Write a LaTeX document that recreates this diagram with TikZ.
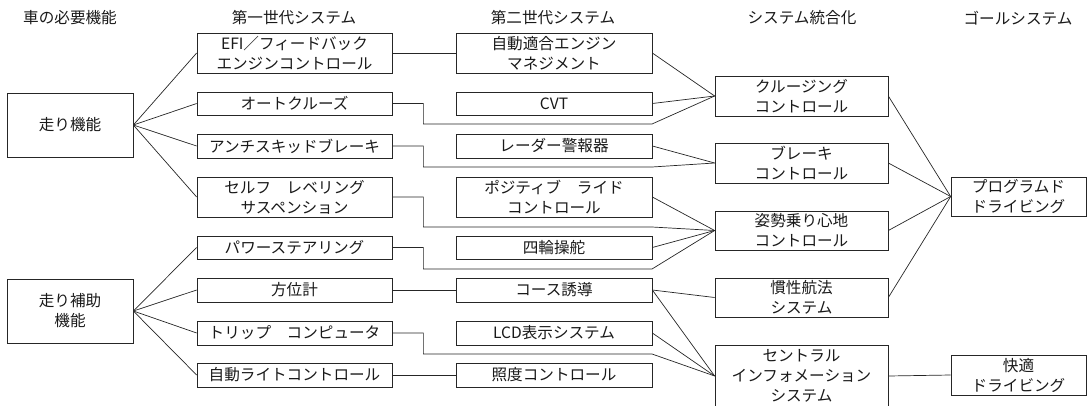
\documentclass[tikz,border=0pt]{standalone}
\usepackage{fontspec}
\setmainfont{Noto Sans CJK JP}
\begin{document}
\begin{tikzpicture}[x=1pt,y=-1pt,
  box/.style={draw=black!85, line width=0.7pt, rectangle, inner sep=0pt, align=center,
    font=\fontsize{15.6}{20}\selectfont, text=black!90},
  hdr/.style={font=\fontsize{15.6}{20}\selectfont, text=black!90, inner sep=0pt},
  conn/.style={draw=black!85, line width=0.7pt}]
\useasboundingbox (0,0) rectangle (1088,405);
% headers
\node[hdr] (h1) at (70,18) {車の必要機能};
\node[hdr] (h2) at (294,18) {第一世代システム};
\node[hdr] (h3) at (553,18) {第二世代システム};
\node[hdr] (h4) at (802,18) {システム統合化};
\node[hdr] (h5) at (1018,18) {ゴールシステム};
% column 1
\node[box, minimum width=126pt, minimum height=64pt] (run) at (70,125) {走り機能};
\node[box, minimum width=126pt, minimum height=64pt] (aux) at (70,311) {走り補助\\機能};
% column 2
\tikzset{c2/.style={box, minimum width=195pt}}
\node[c2, minimum height=40pt] (efi) at (294.5,53) {EFI／フィードバック\\エンジンコントロール};
\node[c2, minimum height=23pt] (oc) at (294.5,103.5) {オートクルーズ};
\node[c2, minimum height=24pt] (abs) at (294.5,146) {アンチスキッドブレーキ};
\node[c2, minimum height=40pt] (slv) at (294.5,197) {セルフ　レベリング\\サスペンション};
\node[c2, minimum height=23pt] (ps) at (294.5,247.5) {パワーステアリング};
\node[c2, minimum height=24pt] (dir) at (294.5,290) {方位計};
\node[c2, minimum height=24pt] (trip) at (294.5,333) {トリップ　コンピュータ};
\node[c2, minimum height=24pt] (light) at (294.5,375) {自動ライトコントロール};
% column 3
\tikzset{c3/.style={box, minimum width=196pt}}
\node[c3, minimum height=40pt] (eng) at (554,53) {自動適合エンジン\\マネジメント};
\node[c3, minimum height=23pt] (cvt) at (554,103.5) {CVT};
\node[c3, minimum height=24pt] (radar) at (554,146) {レーダー警報器};
\node[c3, minimum height=40pt] (pos) at (554,197) {ポジティブ　ライド\\コントロール};
\node[c3, minimum height=23pt] (ws) at (554,247.5) {四輪操舵};
\node[c3, minimum height=24pt] (course) at (554,290) {コース誘導};
\node[c3, minimum height=24pt] (lcd) at (554,333) {LCD表示システム};
\node[c3, minimum height=24pt] (illum) at (554,375) {照度コントロール};
% column 4
\tikzset{c4/.style={box, minimum width=173pt}}
\node[c4, minimum height=40pt] (cruise) at (801.5,96) {クルージング\\コントロール};
\node[c4, minimum height=40pt] (brake) at (801.5,163) {ブレーキ\\コントロール};
\node[c4, minimum height=39pt] (att) at (801.5,230.5) {姿勢乗り心地\\コントロール};
\node[c4, minimum height=39pt] (inert) at (801.5,297.5) {慣性航法\\システム};
\node[c4, minimum height=62pt] (central) at (801.5,376) {セントラル\\インフォメーション\\システム};
% column 5
\tikzset{c5/.style={box, minimum width=135pt}}
\node[c5, minimum height=39pt] (prog) at (1018.5,196.5) {プログラムド\\ドライビング};
\node[c5, minimum height=40pt] (comf) at (1018.5,375) {快適\\ドライビング};
% bend coordinates
\coordinate (b1) at (652,124);
\coordinate (b2) at (652,167);
\coordinate (b3) at (652,227);
\coordinate (b4) at (652,269);
\coordinate (b5) at (652,354);
% col1 -> col2
\foreach \t in {efi,oc,abs,slv} \draw[conn] (run.east) -- (\t.west);
\foreach \t in {ps,dir,trip,light} \draw[conn] (aux.east) -- (\t.west);
% col2 -> col3 straight
\draw[conn] (efi.east) -- (eng.west);
\draw[conn] (dir.east) -- (course.west);
\draw[conn] (light.east) -- (illum.west);
% col2 -> col4 bent
\draw[conn] (oc.east) -- ++(31,0) |- (b1) -- (cruise.west);
\draw[conn] (abs.east) -- ++(31,0) |- (b2) -- (brake.west);
\draw[conn] (slv.east) -- ++(31,0) |- (b3) -- (att.west);
\draw[conn] (ps.east) -- ++(31,0) |- (b4) -- (att.west);
\draw[conn] (trip.east) -- ++(31,0) |- (b5) -- (central.west);
% col3 -> col4
\draw[conn] (eng.east) -- (cruise.west);
\draw[conn] (cvt.east) -- (cruise.west);
\draw[conn] (radar.east) -- (brake.west);
\draw[conn] (pos.east) -- (att.west);
\draw[conn] (ws.east) -- (att.west);
\draw[conn] (course.east) -- (inert.west);
\draw[conn] (course.east) -- (central.west);
\draw[conn] (lcd.east) -- (central.west);
% col4 -> col5
\foreach \s in {cruise,brake,att,inert} \draw[conn] (\s.east) -- (prog.west);
\draw[conn] (central.east) -- (comf.west);
\end{tikzpicture}
\end{document}
